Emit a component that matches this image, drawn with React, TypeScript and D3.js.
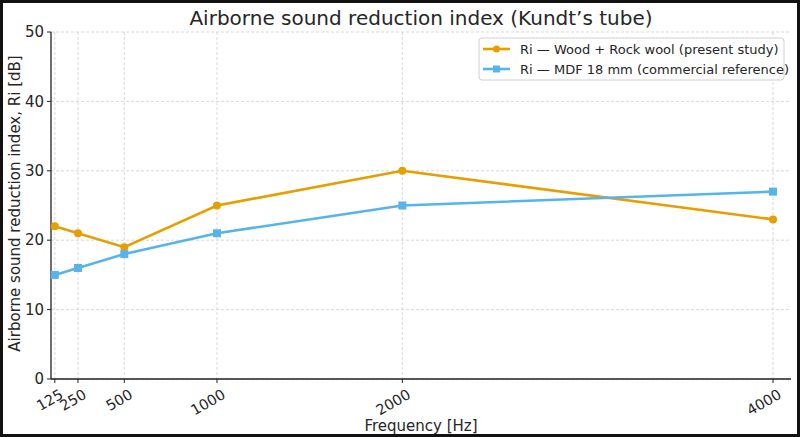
import React from "react";
import * as d3 from "d3";

const frequencies = [125, 250, 500, 1000, 2000, 4000];
const woodRockWool = [22, 21, 19, 25, 30, 23];
const mdf18 = [15, 16, 18, 21, 25, 27];
const yTicks = [0, 10, 20, 30, 40, 50];
const seriesNames = ["Ri — Wood + Rock wool (present study)", "Ri — MDF 18 mm (commercial reference)"];
const colors = ["#E69F00", "#56B4E9"];

const W = 800, H = 437;
const left = 51, right = 791, top = 32, bottom = 379;
const FONT = "DejaVu Sans, sans-serif";

export default function App() {
  const x = d3.scaleLinear().domain([104.5, 4097]).range([left, right]);
  const y = d3.scaleLinear().domain([0, 50]).range([bottom, top]);
  const line = d3.line<number>().x((_, i) => x(frequencies[i])).y((d) => y(d));
  const series = [woodRockWool, mdf18];
  return (
    <svg width={W} height={H} style={{ position: "absolute", left: 0, top: 0, background: "#fff" }} fontFamily={FONT}>
      <rect x={0} y={0} width={W} height={H} fill="#fff" />
      {/* grid */}
      {frequencies.map((f) => (
        <line key={"gx" + f} x1={x(f)} x2={x(f)} y1={top} y2={bottom} stroke="#cfcfcf" strokeWidth={0.8} strokeDasharray="3,2" />
      ))}
      {yTicks.map((t) => (
        <line key={"gy" + t} x1={left} x2={right} y1={y(t)} y2={y(t)} stroke="#cfcfcf" strokeWidth={0.8} strokeDasharray="3,2" />
      ))}
      {/* spines */}
      <line x1={left} x2={left} y1={top} y2={bottom} stroke="#222" strokeWidth={1.3} />
      <line x1={left} x2={right} y1={bottom} y2={bottom} stroke="#222" strokeWidth={1.3} />
      {/* y ticks */}
      {yTicks.map((t) => (
        <g key={"yt" + t}>
          <line x1={left - 4} x2={left} y1={y(t)} y2={y(t)} stroke="#222" strokeWidth={1} />
          <text x={left - 7} y={y(t)} dy="0.35em" textAnchor="end" fontSize={15} fill="#262626">{t}</text>
        </g>
      ))}
      {/* x ticks */}
      {frequencies.map((f) => (
        <g key={"xt" + f}>
          <line x1={x(f)} x2={x(f)} y1={bottom} y2={bottom + 4} stroke="#222" strokeWidth={1} />
          <text transform={`translate(${x(f) + 4},${bottom + 9}) rotate(-30)`} textAnchor="end" dy="0.75em" fontSize={14.5} fill="#262626">{f}</text>
        </g>
      ))}
      {/* lines */}
      {series.map((s, si) => (
        <g key={"s" + si}>
          <path d={line(s) || ""} fill="none" stroke={colors[si]} strokeWidth={2.6} />
          {s.map((v, i) =>
            si === 0 ? (
              <circle key={i} cx={x(frequencies[i])} cy={y(v)} r={4} fill={colors[si]} />
            ) : (
              <rect key={i} x={x(frequencies[i]) - 4} y={y(v) - 4} width={8} height={8} fill={colors[si]} />
            )
          )}
        </g>
      ))}
      {/* title & labels */}
      <text x={(left + right) / 2} y={25} textAnchor="middle" fontSize={20} fill="#262626">Airborne sound reduction index (Kundt’s tube)</text>
      <text x={(left + right) / 2} y={431} textAnchor="middle" fontSize={15} fill="#262626">Frequency [Hz]</text>
      <text transform={`translate(20,${(top + bottom) / 2 - 2}) rotate(-90)`} textAnchor="middle" fontSize={15} fill="#262626">Airborne sound reduction index, Ri [dB]</text>
      {/* legend */}
      <rect x={479} y={38} width={305} height={42} rx={3} fill="#fff" stroke="#d0d0d0" strokeWidth={1} />
      {seriesNames.map((n, i) => (
        <g key={"lg" + i} transform={`translate(0,${49 + i * 20})`}>
          <line x1={483} x2={510} y1={0} y2={0} stroke={colors[i]} strokeWidth={2.6} />
          {i === 0 ? <circle cx={496.5} cy={0} r={3.5} fill={colors[i]} /> : <rect x={493} y={-3.5} width={7} height={7} fill={colors[i]} />}
          <text x={520} y={0} dy="0.35em" fontSize={13} fill="#262626">{n}</text>
        </g>
      ))}
      {/* outer border */}
      <rect x={1.5} y={1.5} width={W - 3} height={H - 3} fill="none" stroke="#111" strokeWidth={3} />
    </svg>
  );
}
